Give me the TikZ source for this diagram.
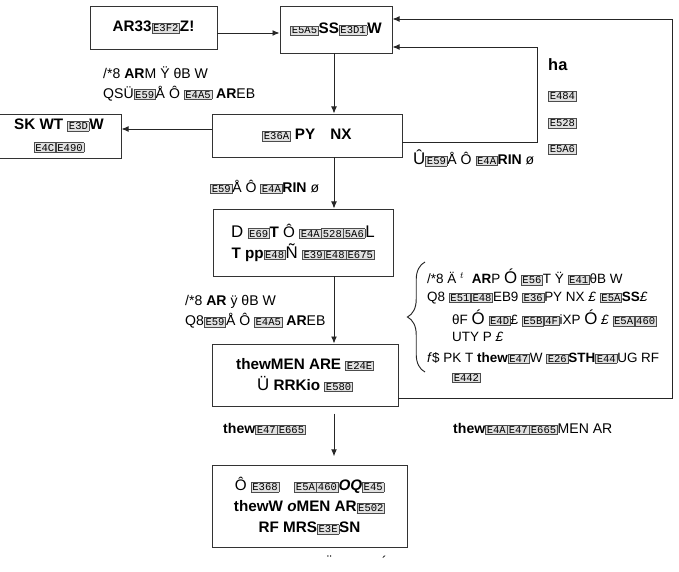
\documentclass[tikz,border=0pt]{standalone}
\usepackage{fontspec}
\setmainfont{Liberation Sans}
\setmonofont{Liberation Mono}
\usetikzlibrary{arrows.meta,positioning,decorations.pathreplacing}

% small framed code box, as the picture prints missing glyphs
\newcommand{\hx}[1]{{\setlength{\fboxsep}{0.8pt}\setlength{\fboxrule}{0.5pt}%
  \fcolorbox{black!70}{black!12}{\fontsize{9}{9}\selectfont\ttfamily #1}}}

\begin{document}
\begin{tikzpicture}[
    x=0.03cm, y=-0.03cm,
    % --- Node styles ---
    box/.style={draw=black!80, line width=0.8pt, align=center,
                font=\fontsize{13}{18}\selectfont},
    lbl/.style={align=left, anchor=west, inner sep=0pt,
                font=\fontsize{12}{17}\selectfont},
    note/.style={lbl, font=\fontsize{11.5}{17}\selectfont},
    % --- Edge styles ---
    arr/.style={-{Latex[length=6pt,width=5pt]}, line width=0.8pt, black!85},
    bracket/.style={decorate, decoration={brace, amplitude=15pt}, line width=0.8pt, black!85},
]
\useasboundingbox (0,0) rectangle (679,572);

% === Main boxes ===
\node[box, minimum width=3.81cm, minimum height=1.29cm] (start) at (153.5,27.5) {\textbf{AR33}\hx{E3F2}\textbf{Z!}};
\node[box, minimum width=3.36cm, minimum height=1.41cm] (hub) at (336,29.5) {\hx{E5A5}\textbf{SS}\hx{E3D1}\textbf{W}};
\node[box, minimum width=5.7cm, minimum height=1.29cm] (split) at (307,135.5) {\hx{E36A} \textbf{PY}\quad \textbf{NX}};
\node[box, minimum width=3.72cm, minimum height=1.32cm] (side) at (59,136) {\textbf{SK WT} \hx{E3D}\textbf{W}\\ \hx{E4C}\hx{E490}};
\node[box, minimum width=5.4cm, minimum height=2.01cm] (check) at (303,242.5)
  {{\Large D} \hx{E69}\textbf{T} Ô \hx{E4A}\hx{528}\hx{5A6}{\Large L}\\ \textbf{T pp}\hx{E48}{\Large Ñ} \hx{E39}\hx{E48}\hx{E675}};
\node[box, minimum width=5.58cm, minimum height=1.86cm] (merge) at (305,375)
  {\textbf{thewMEN ARE} \hx{E24E}\\ {\Large Ü} \textbf{RRKio} \hx{E580}};
\node[box, minimum width=5.85cm, minimum height=2.46cm] (done) at (309.5,506)
  {Ô \hx{E368}\quad \hx{E5A}\hx{460}\textbf{\textit{OQ}}\hx{E45}\\ \textbf{thewW \textit{o}MEN AR}\hx{E502}\\ \textbf{RF MRS}\hx{E3E}\textbf{SN}};

% --- Helper points for the connectors ---
\coordinate (spine) at (334,0);
\coordinate (abrow) at (0,33);
\coordinate (cdrow) at (0,129);
\coordinate (smallloop) at (537,47);
\coordinate (bigloop) at (672,19);

% --- Connectors ---
\draw[arr] (start.east |- abrow) -- (hub.west |- abrow);
\draw[arr] (hub.south -| spine) -- (split.north -| spine);
\draw[arr] (split.west |- cdrow) -- (side.east |- cdrow);
\draw[arr] (split.south -| spine) -- (check.north -| spine);
\draw[arr] (check.south -| spine) -- (merge.north -| spine);
\draw[arr, shorten <=6pt, shorten >=7pt] (merge.south -| spine) -- (done.north -| spine);
\draw[arr] ([yshift=-0.2cm]split.east) -| (smallloop) -- (hub.east |- smallloop);
\draw[arr] ([yshift=-0.69cm]merge.east) -| (bigloop) -- (hub.east |- bigloop);

% --- Labels on the connectors ---
\node[lbl] (lblbc) at (103,83.5) {/*8 \textbf{AR}M Ÿ θB W\\ QSÜ\hx{E59}Å Ô \hx{E4A5} \textbf{AR}EB};
\node[lbl] (lblloop) at (413,158) {{\Large Û}\hx{E59}Å Ô \hx{E4A}\textbf{RIN} ø};
\node[lbl] (lblce) at (210,187) {\hx{E59}Å Ô \hx{E4A}\textbf{RIN} ø};
\node[lbl] (lblef) at (185,312) {/*8 \textbf{AR} ÿ θB W\\ Q8\hx{E59}Å Ô \hx{E4A5} \textbf{AR}EB};
\node[lbl] (lblfg) at (223,429) {\textbf{thew}\hx{E47}\hx{E665}};
\node[lbl] (lblright) at (453,429) {\textbf{thew}\hx{E4A}\hx{E47}\hx{E665}MEN AR};

% --- List beside the small loop ---
\node[lbl, font=\fontsize{14}{17}\selectfont\bfseries] (ha) at (548,65) {ha};
\node[lbl] (ha1) at (548,96) {\hx{E484}};
\node[lbl] (ha2) at (548,123) {\hx{E528}};
\node[lbl] (ha3) at (548,149) {\hx{E5A6}};

% --- Braced notes ---
\draw[bracket] (425,372) -- (425,262);
\node[note] (b1) at (427,277) {/*8 Ä $^{t}$ \ \textbf{AR}P {\Large Ó} \hx{E56}T Ÿ \hx{E41}θB W};
\node[note] (b2) at (427,298) {Q8 \hx{E51}\hx{E48}EB9 \hx{E36}PY NX \textit{£} \hx{E5A}\textbf{SS}\textit{£}};
\node[note] (b3) at (452,318) {θF {\Large Ó} \hx{E4D}£ \hx{E5B}\hx{4F}iXP {\Large Ó} \textit{£} \hx{E5A}\hx{460}};
\node[note] (b4) at (452,337) {UTY P \textit{£}};
\node[note] (b5) at (427,358) {\textit{f}\$ PK T \textbf{thew}\hx{E47}W \hx{E26}\textbf{STH}\hx{E44}UG RF};
\node[note] (b6) at (452,378) {\hx{E442}};

% --- Cut-off caption marks ---
\node[lbl] (cap1) at (327,561) {¨};
\node[lbl] (cap2) at (382,561) {´};

\end{tikzpicture}
\end{document}
